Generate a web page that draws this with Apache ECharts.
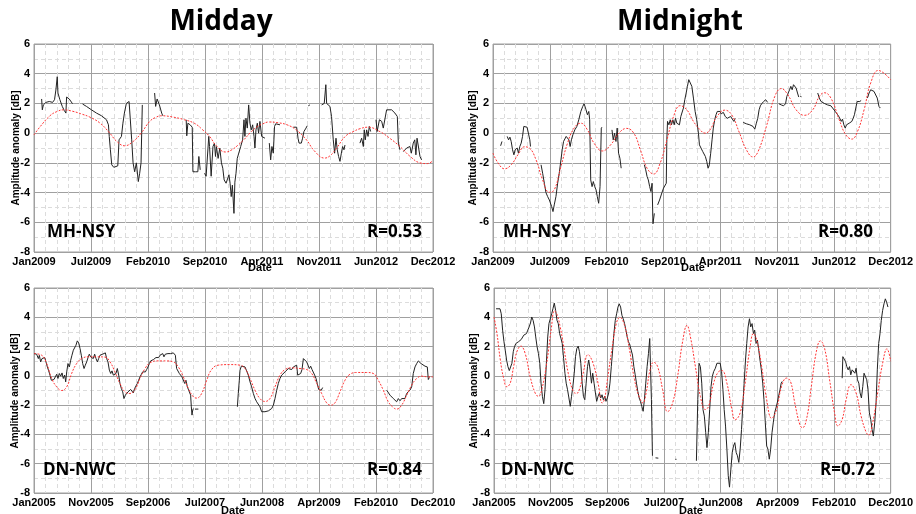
<!DOCTYPE html>
<html><head><meta charset="utf-8">
<script src="https://cdn.jsdelivr.net/npm/echarts@6/dist/echarts.min.js"></script>
<style>html,body{margin:0;padding:0;background:#fff}#c{width:916px;height:514px}</style>
</head><body><div id="c"></div>
<script>
// Tick labels (x values are positions in minor-grid units, 5 per labelled tick)
const ticksNsy = ['Jan2009','Jul2009','Feb2010','Sep2010','Apr2011','Nov2011','Jun2012','Dec2012'];
const ticksNwc = ['Jan2005','Nov2005','Sep2006','Jul2007','Jun2008','Apr2009','Feb2010','Dec2010'];
const yTicks = [-8,-6,-4,-2,0,2,4,6];

// Midday MH-NSY observed (null = data gap)
const middayNsyObs = [[0.67,2.3],[0.73,1.57],[0.82,1.9],[1.05,2.07],[1.34,2.13],[1.46,2.0],[1.63,2.07],[1.8,2.25],[1.92,2.9],[2.04,3.8],[2.1,2.7],[2.27,2.25],[2.48,1.8],[2.65,1.53],[2.8,1.35],[2.86,2.43],[3.09,2.3],[3.38,1.98],null,
[4.26,1.96],[4.6,1.8],[5.04,1.57],[5.48,1.35],[5.92,1.17],[6.36,0.9],[6.53,0.56],[6.6,-0.22],[6.7,-1.12],[6.82,-2.13],[7.0,-2.3],[7.17,-2.2],[7.35,-2.2],[7.46,-0.45],[7.67,-0.22],[7.8,0.67],[7.93,1.35],[8.1,2.0],[8.34,2.13],[8.5,2.07],[8.57,-0.45],[8.69,-2.0],[8.83,-2.6],[8.98,-2.0],[9.15,-3.26],[9.27,-2.7],[9.39,-2.0],[9.5,1.9],null,
[10.58,2.7],[10.67,1.8],[10.8,2.3],[11.0,1.9],[11.2,1.35],[11.3,1.17],null,
[13.35,0.9],[13.4,-0.18],[13.5,0.67],[13.7,0.56],[13.88,0.4],[13.94,-2.6],[14.17,-2.6],[14.37,-2.6],[14.46,-1.57],[14.58,-2.47],null,
[14.96,-2.7],[15.1,-2.9],[15.33,-0.22],[15.4,-0.9],[15.54,-2.9],[15.7,-0.9],[15.83,-0.67],[15.92,-1.57],[16.0,-0.9],[16.15,-1.7],[16.3,-1.0],[16.44,-2.0],[16.56,-2.36],[16.68,-3.15],[16.85,-3.37],[17.1,-2.8],[17.2,-3.37],[17.3,-4.27],[17.4,-3.5],[17.54,-5.4],[17.62,-3.3],[17.72,-2.7],[17.83,-1.7],[18.0,-1.57],[18.13,-0.9],[18.3,-0.45],[18.42,0.9],[18.5,-0.22],[18.59,1.0],[18.71,0.34],[18.83,1.9],[18.94,0.67],[19.06,0.22],[19.18,0.56],[19.3,-0.22],[19.38,-1.0],[19.47,0.22],[19.59,0.67],[19.7,0],[19.82,0.79],[19.97,-0.22],[20.1,-0.22],[20.26,-0.34],null,
[20.64,-0.67],[20.76,-1.8],[20.87,-0.9],[20.99,-1.35],[21.1,0.45],[21.2,0.63],[21.58,0.56],null,
[22.75,0.4],[23.04,0.4],[23.16,-0.34],[23.25,-0.67],[23.45,-0.67],[23.56,-0.34],[23.68,0.11],[23.86,0.34],[23.97,0.5],null,
[24.06,1.84],[24.2,1.9],null,
[25.23,1.9],[25.46,2.0],[25.6,3.26],[25.67,2.0],[25.84,2.13],[25.96,1.8],[26.1,1.12],[26.25,-0.45],[26.37,-1.35],[26.49,-0.34],[26.6,-1.12],[26.72,-1.57],[26.84,-1.9],[26.96,-1.35],[27.07,-0.9],[27.19,-1.12],[27.28,-0.8],null,
[28.59,-0.67],[28.74,-0.34],[28.89,-0.9],[28.97,0.22],[29.06,-0.45],[29.18,0.22],[29.3,-0.22],[29.41,0.45],[29.53,0.11],null,
[30.0,0.9],[30.1,0.11],[30.3,0.9],[30.5,0.79],[30.64,0.34],[30.8,0.4],[30.93,1.57],[31.1,1.69],[31.37,1.57],[31.66,1.35],[31.87,1.12],[31.96,-0.67],[32.1,-1.12],null,
[32.4,-1.24],[32.69,-1.0],[32.98,-0.9],[33.1,-1.35],[33.27,-0.67],[33.4,-0.45],[33.5,-1.46],[33.6,-0.34],[33.7,-0.22],[33.86,-1.57],[34.0,-1.8]];

// Midday MH-NSY model (red)
const middayNsyFit = [[0,-0.12],[0.5,0.4],[1.4,1.17],[2.0,1.45],[2.6,1.57],[3.4,1.47],[4.2,1.28],[4.9,1.08],[5.8,0.67],[6.65,0],[7.25,-0.55],[7.95,-0.85],[8.7,-0.56],[9.4,0],[10.15,0.79],[10.7,1.07],[11.2,1.17],[12.2,1.08],[13.2,0.9],[14.1,0.65],[14.8,0.22],[15.4,-0.22],[16.0,-0.85],[16.8,-1.27],[17.4,-1.1],[17.9,-0.8],[18.4,-0.45],[19.0,0.05],[19.6,0.45],[20.0,0.6],[20.6,0.75],[21.4,0.7],[22.2,0.56],[23.0,0.22],[23.9,-0.45],[24.6,-1.2],[25.5,-1.68],[26.0,-1.5],[26.55,-1.0],[27.3,-0.22],[28.0,0.1],[28.6,0.3],[29.3,0.4],[30.35,0.1],[31.2,-0.34],[32.1,-0.9],[33.0,-1.57],[33.86,-2.0],[34.5,-2.05],[35,-1.85]];

// Midnight MH-NSY observed
const midnightNsyObs = [[0.67,-0.85],[0.79,-0.56],null,
[1.25,-0.22],[1.37,-0.45],[1.49,-0.27],[1.6,-0.56],[1.72,-1.12],[1.84,-1.46],[1.95,-1.12],[2.13,-1.0],[2.24,-1.35],[2.36,-0.9],[2.48,-0.67],[2.6,-0.22],[2.71,0.45],[2.83,0.5],[3.0,0.4],[3.12,0.4],[3.24,-0.45],[3.3,-0.9],null,
[4.23,-2.13],[4.37,-2.7],[4.52,-3.37],[4.66,-4.0],[4.81,-4.27],[4.96,-4.5],[5.04,-4.4],[5.16,-4.94],[5.28,-5.28],[5.39,-4.83],[5.54,-4.27],[5.69,-3.37],[5.83,-2.7],[5.98,-1.8],[6.09,-1.12],[6.21,-0.56],[6.33,-0.45],[6.44,-0.22],[6.56,-0.11],[6.68,-0.45],[6.79,-0.9],[6.9,-0.45],[7.03,-0.11],[7.2,0.22],[7.38,0.45],[7.55,0.9],[7.73,1.46],[7.9,1.8],[8.02,1.98],[8.19,1.57],[8.31,1.24],[8.43,1.46],[8.51,0.9],[8.6,-3.15],[8.72,-3.6],[8.83,-3.26],[8.95,-3.6],[9.07,-3.82],[9.18,-4.27],[9.3,-4.72],[9.42,-3.6],[9.53,0.34],[9.59,0.4],null,
[10.47,0.22],[10.58,-0.45],[10.7,0.0],[10.82,-0.56],[10.93,0.34],[11.05,-1.35],[11.17,-1.69],[11.28,-2.36],null,
[13.32,-2.13],[13.44,-2.47],[13.56,-2.92],[13.67,-3.15],[13.79,-3.6],[13.9,-3.93],[14.0,-3.37],[14.08,-6.1],[14.2,-5.4],null,
[14.49,-4.83],[14.66,-4.5],[14.87,-4.0],[15.01,-3.7],[15.16,-3.6],[15.25,-3.37],[15.3,-0.45],[15.36,0.79],[15.48,0.56],[15.6,0.9],[15.71,0.56],[15.83,0.9],[15.95,0.56],[16.06,1.0],[16.18,0.67],[16.3,0.79],[16.41,0.56],[16.53,1.12],[16.65,1.0],[16.76,1.69],[16.88,2.25],[17.0,2.7],[17.11,3.15],[17.23,3.6],[17.35,3.7],[17.5,3.15],[17.64,2.36],[17.79,1.46],[17.93,0.9],[18.08,0],[18.17,-0.79],[18.28,-0.9],[18.46,-1.24],[18.58,-1.35],[18.69,-1.57],[18.81,-1.9],[18.93,-2.36],[19.04,-2.13],[19.16,-1.35],[19.28,-0.45],[19.39,0.34],[19.51,0.9],[19.63,1.24],[19.74,1.46],[19.86,1.35],[19.98,1.46],[20.09,1.3],[20.27,1.4],[20.44,1.12],[20.62,1.0],[20.79,0.9],[20.91,1.12],[21.08,1.17],[21.2,0.79],[21.32,1.0],null,
[22.02,0.72],[22.3,0.63],[22.6,0.56],[22.89,0.45],[23.04,0.27],[23.18,0.67],[23.3,1.0],[23.42,1.57],[23.53,1.84],[23.65,1.98],[23.82,2.13],[24.0,2.25],[24.17,2.07],null,
[25.16,1.98],[25.37,1.9],[25.57,1.84],[25.75,1.98],[25.86,2.47],[25.98,2.7],[26.1,2.92],[26.21,3.15],[26.33,2.92],[26.45,3.26],[26.56,3.37],[26.68,3.03],[26.8,2.7],[26.91,2.43],null,
[27.05,2.47],[27.15,2.45],null,
[28.58,2.7],[28.72,2.36],[28.87,2.13],[29.01,2.25],[29.16,2.0],[29.3,2.13],[29.45,1.9],[29.74,1.84],[29.89,1.69],[30.12,1.46],[30.33,1.24],[30.47,1.08],[30.65,0.79],[30.76,0.94],[30.88,0.56],[31.0,0.34],[31.11,0.56],[31.23,0.5],[31.35,0.67],[31.46,0.56],[31.58,0.79],[31.7,1.0],[31.81,1.24],[31.93,1.69],[32.05,2.13],[32.16,2.2],[32.28,2.13],[32.4,2.2],null,
[32.95,2.36],[33.1,2.7],[33.24,2.92],[33.39,3.03],[33.53,2.81],[33.68,2.7],[33.82,2.36],[33.97,1.8],[34.09,1.69]];

// Midnight MH-NSY model
const midnightNsyFit = [[0,-1.35],[0.44,-2.0],[1.02,-2.4],[1.6,-2.13],[2.19,-1.46],[2.77,-0.92],[3.2,-1.0],[3.79,-1.8],[4.37,-3.15],[4.96,-3.98],[5.39,-3.82],[5.98,-2.25],[6.56,-0.67],[7.14,0.34],[7.73,0.67],[8.31,0.22],[8.89,-0.67],[9.62,-1.2],[10.35,-0.79],[11.08,0],[11.75,0.32],[12.39,0],[12.97,-1.12],[13.56,-2.36],[14.14,-2.75],[14.72,-2.0],[15.31,-0.45],[15.89,1.12],[16.47,1.85],[17.06,1.57],[17.64,0.79],[18.23,0.22],[18.66,0.0],[19.1,0.22],[19.68,1.08],[20.41,1.55],[21.0,1.24],[21.7,0],[22.3,-1.12],[22.89,-1.6],[23.33,-1.24],[24.06,0.45],[24.8,2.47],[25.37,3.0],[25.95,2.58],[26.68,1.57],[27.41,1.2],[28.14,1.57],[28.72,2.47],[29.16,2.72],[29.74,2.36],[30.47,0.9],[31.05,-0.11],[31.58,-0.4],[32.08,0.11],[32.66,1.57],[33.24,3.37],[33.91,4.22],[34.4,4.04],[35,3.6]];

// Midday DN-NWC observed
const middayNwcObs = [[0,1.52],[0.23,1.48],[0.38,1.18],[0.47,1.4],[0.58,0.95],[0.7,1.18],[0.82,1.07],[0.94,1.25],[1.05,0.95],[1.17,0.61],[1.29,0.34],[1.4,0.05],[1.52,-0.3],[1.64,-0.18],[1.75,-0.25],[1.87,-0.07],[1.99,0.11],[2.1,-0.18],[2.22,0.16],[2.34,-0.02],[2.46,0.2],[2.57,-0.18],[2.69,0.05],[2.78,-0.41],[2.87,0.27],[2.98,0.84],[3.1,0.61],[3.22,1.07],[3.33,1.41],[3.45,1.75],[3.57,1.64],[3.68,2.09],[3.8,2.39],[3.92,2.25],[4.04,1.86],[4.15,1.41],[4.27,0.84],[4.39,0.5],[4.5,0.73],[4.62,0.95],[4.74,1.25],[4.85,1.48],[4.97,1.3],[5.09,1.41],[5.2,1.18],[5.32,1.48],[5.44,1.18],[5.56,0.95],[5.67,1.18],[5.79,1.41],[5.91,1.52],[6.02,1.48],[6.14,1.52],[6.26,1.57],[6.37,1.18],[6.49,0.95],[6.61,0.39],[6.73,0.16],[6.84,0.34],[6.96,0.05],[7.08,-0.07],[7.19,0.16],[7.31,0.5],[7.43,0.05],[7.54,-0.52],[7.66,-0.86],[7.78,-1.09],[7.89,-1.55],[8.01,-1.32],[8.13,-1.2],[8.25,-1.09],[8.36,-1.2],[8.48,-0.93],[8.6,-1.02],[8.71,-1.16],[8.83,-0.86],[8.95,-0.75],[9.06,-0.52],[9.18,-0.3],[9.3,-0.07],[9.42,0.11],[9.53,0.27],[9.65,0.2],[9.77,0.27],[9.88,0.43],[10.0,0.61],[10.12,0.84],[10.23,1.02],[10.35,1.07],[10.47,1.11],[10.58,1.18],[10.7,1.25],[10.82,1.34],[10.94,1.25],[11.05,1.41],[11.17,1.34],[11.29,1.52],[11.4,1.3],[11.52,1.48],[11.64,1.41],[11.75,1.52],[11.87,1.64],[11.99,1.52],[12.11,1.64],[12.22,1.57],[12.4,1.41],[12.51,0.5],[12.63,0.39],[12.75,0.16],[12.87,0.05],[12.98,-0.07],[13.1,-0.18],[13.22,-0.52],[13.33,-0.3],[13.45,-0.75],[13.57,-0.98],[13.68,-1.09],[13.74,-1.32],[13.8,-2.11],[13.86,-2.68],[13.92,-2.34],[13.98,-2.23],null,
[14.12,-2.27],[14.42,-2.27],null,
[17.84,-2.11],[17.92,-1.2],[18.01,-0.3],[18.07,0.39],[18.19,0.66],[18.36,0.73],[18.51,0.61],[18.65,0.34],[18.8,0.05],[18.95,-0.41],[19.09,-0.75],[19.24,-1.2],[19.39,-1.55],[19.53,-1.77],[19.68,-1.89],[19.82,-2.11],[19.97,-2.45],[20.12,-2.52],[20.26,-2.45],[20.41,-2.52],[20.56,-2.39],[20.7,-2.34],[20.85,-2.23],[21.0,-2.0],[21.14,-1.55],[21.29,-0.98],[21.43,-0.52],[21.58,-0.18],[21.73,0.05],[21.87,0.16],[22.02,0.27],[22.16,0.39],[22.31,0.5],[22.46,0.61],[22.6,0.43],[22.75,0.61],[22.9,0.73],[23.04,0.73],[23.13,0.05],[23.27,-0.02],[23.39,0.16],[23.51,0.43],[23.63,1.18],[23.8,1.11],[23.92,0.95],[24.04,0.73],[24.15,0.5],[24.27,0.66],[24.39,0.43],[24.5,0.5],[24.62,0.05],[24.74,-0.18],[24.85,-0.52],[24.97,-0.93],[25.09,-0.8],[25.2,-0.98],[25.32,-0.8],null,
[30.94,-0.98],[31.08,-1.09],[31.23,-1.32],[31.37,-1.2],[31.52,-1.55],[31.67,-1.43],[31.81,-1.77],[31.96,-1.55],[32.11,-1.7],[32.25,-1.55],[32.4,-1.43],[32.54,-1.55],[32.69,-1.2],[32.84,-1.09],[32.98,-0.98],[33.13,-0.75],[33.27,0.16],[33.42,0.61],[33.57,0.84],[33.71,1.02],[33.86,1.11],[33.95,0.84],[34.09,0.73],[34.3,0.66],[34.5,0.61],[34.59,-0.25],[34.68,-0.11]];

// Midday DN-NWC model
const middayNwcFit = [[0,1.52],[0.67,1.41],[1.11,0.84],[1.55,-0.18],[1.99,-0.75],[2.43,-1.0],[2.87,-0.75],[3.3,0.16],[3.74,0.84],[4.18,1.18],[4.77,1.3],[5.5,1.3],[6.23,1.28],[6.67,0.95],[7.1,0.27],[7.54,-0.52],[7.98,-1.09],[8.42,-1.2],[8.86,-0.93],[9.3,-0.18],[9.74,0.5],[10.18,0.89],[10.76,1.02],[11.64,1.02],[12.22,0.95],[12.66,0.61],[13.1,-0.07],[13.54,-0.86],[13.98,-1.43],[14.27,-1.52],[14.71,-1.2],[15.15,-0.3],[15.58,0.43],[16.17,0.73],[17.19,0.77],[18.07,0.73],[18.51,0.5],[18.95,-0.18],[19.39,-0.98],[19.82,-1.55],[20.26,-1.75],[20.7,-1.55],[21.14,-0.75],[21.58,0.05],[22.02,0.43],[22.6,0.55],[23.33,0.5],[23.92,0.43],[24.36,0.16],[24.8,-0.52],[25.23,-1.2],[25.67,-1.84],[26.02,-2.0],[26.4,-1.84],[26.84,-1.09],[27.28,-0.3],[27.72,0.11],[28.3,0.23],[29.18,0.23],[29.77,0.16],[30.2,-0.3],[30.64,-0.98],[31.08,-1.77],[31.52,-2.16],[31.81,-2.27],[32.25,-2.0],[32.69,-1.32],[33.13,-0.64],[33.57,-0.18],[34.0,-0.02],[34.59,-0.07],[35,-0.07]];

// Midnight DN-NWC observed
const midnightNwcObs = [[0.18,4.58],[0.35,4.7],[0.53,4.58],[0.64,4.24],[0.76,3.12],[0.88,2.33],[0.99,1.76],[1.11,1.08],[1.23,0.63],[1.35,0.36],[1.46,0.23],[1.58,0.86],[1.7,1.65],[1.81,1.99],[1.93,2.21],[2.05,2.1],[2.16,2.33],[2.28,2.21],[2.4,2.48],[2.51,2.55],[2.63,2.78],[2.75,2.66],[2.87,2.89],[2.98,3.12],[3.1,3.34],[3.22,3.61],[3.33,4.02],[3.45,3.79],[3.57,3.34],[3.68,2.66],[3.8,1.99],[3.92,1.53],[4.04,0.86],[4.15,-0.5],[4.27,-1.4],[4.39,-1.9],[4.5,-0.95],[4.62,0.86],[4.74,2.66],[4.85,3.57],[4.97,3.57],[5.09,4.24],[5.2,4.58],[5.32,4.97],[5.44,4.47],[5.56,3.79],[5.67,3.57],[5.79,2.89],[5.91,2.55],[6.02,2.21],[6.14,1.2],[6.26,0.18],[6.37,-0.5],[6.49,-0.95],[6.61,-1.51],[6.73,-2.08],[6.84,-1.4],[6.96,-0.72],[7.08,0.18],[7.19,1.31],[7.31,1.87],[7.43,2.03],[7.54,1.65],[7.66,0.86],[7.78,-0.5],[7.89,-1.4],[8.01,-1.63],[8.13,-0.5],[8.25,0.63],[8.36,1.08],[8.48,0.41],[8.6,-0.5],[8.71,0.18],[8.83,-0.5],[8.95,-1.17],[9.06,-1.74],[9.18,-1.4],[9.3,-1.17],[9.42,-1.51],[9.53,-1.29],[9.65,-1.63],[9.77,-1.4],[9.88,-1.74],[10.0,-1.51],[10.12,-1.17],[10.23,-0.5],[10.35,0.63],[10.47,1.76],[10.58,2.89],[10.7,3.79],[10.82,4.24],[10.94,4.7],[11.05,4.92],[11.17,4.7],[11.29,4.13],[11.4,3.9],[11.52,3.57],[11.64,3.12],[11.75,2.66],[11.87,2.33],[11.99,2.1],[12.11,1.99],[12.22,1.42],[12.34,0.63],[12.46,0.07],[12.57,-0.5],[12.69,-1.06],[12.81,-1.51],[12.92,-1.74],[13.04,-2.08],[13.16,-2.42],[13.27,-1.63],[13.39,-0.5],[13.51,0.63],[13.63,1.53],[13.74,2.55],[13.8,2.66],[13.89,-1.63],[13.98,-5.46],null,
[14.25,-5.6],[14.5,-5.62],null,[16.0,-5.7],[16.1,-5.7],null,
[17.86,-5.8],[17.98,-1.63],[18.09,0.86],[18.21,0.63],[18.33,-0.5],[18.44,-2.3],[18.56,-2.75],[18.68,-3.88],[18.79,-4.9],[18.91,-3.88],[19.03,-2.3],[19.15,-0.72],[19.26,-0.05],[19.38,0.29],[19.53,0.52],[19.67,0.86],[19.82,0.97],[19.96,0.86],[20.08,0.29],[20.2,-0.95],[20.31,-2.3],[20.43,-3.43],[20.55,-5.01],[20.67,-6.82],[20.78,-7.6],[20.9,-6.37],[21.02,-5.24],[21.13,-4.79],[21.25,-4.56],[21.37,-5.24],[21.48,-5.46],[21.6,-5.91],[21.72,-5.01],[21.84,-3.66],[21.95,-2.08],[22.07,-0.5],[22.19,1.08],[22.3,2.21],[22.42,3.34],[22.54,3.9],[22.65,3.34],[22.77,3.57],[22.89,2.89],[23.0,3.12],[23.12,2.21],[23.24,2.44],[23.36,1.76],[23.47,1.08],[23.59,0.41],[23.71,-0.5],[23.82,-1.63],[23.94,-3.21],[24.06,-4.79],[24.17,-5.01],[24.29,-5.69],[24.41,-5.01],[24.53,-3.88],[24.64,-3.21],[24.76,-2.53],[24.88,-2.19],[24.99,-1.85],[25.11,-1.74],[25.23,-0.95],[25.34,-0.5],[25.43,-0.38],null,
[30.72,-0.16],[30.78,1.31],[30.9,1.2],[31.02,0.97],[31.13,0.63],[31.25,0.41],[31.37,0.63],[31.48,0.07],[31.6,0.41],[31.72,0.52],[31.84,0.18],[31.95,0.52],[32.07,-0.27],[32.19,-0.5],[32.3,-1.17],[32.42,-1.51],[32.54,-0.72],[32.65,0.18],[32.77,0.07],[32.89,-0.27],[33.0,-0.95],[33.12,-2.53],[33.24,-2.98],[33.36,-3.66],[33.47,-4.11],[33.59,-3.21],[33.71,-1.85],[33.82,0.41],[33.94,2.21],[34.06,2.89],[34.17,3.79],[34.29,4.47],[34.41,4.92],[34.53,5.26],[34.64,5.03],[34.76,4.7]];

// Midnight DN-NWC model
const midnightNwcFit = [[0,4.02],[0.26,2.89],[0.56,1.08],[0.85,-0.16],[1.14,-0.75],[1.43,-0.5],[1.73,0.63],[2.02,1.65],[2.37,2.03],[2.75,1.53],[3.19,-0.05],[3.63,-1.17],[3.92,-1.4],[4.21,-0.95],[4.65,0.86],[5.05,3.2],[5.35,4.45],[5.6,4.1],[5.85,3.3],[6.11,2.2],[6.55,0.18],[6.99,-1.06],[7.28,-1.2],[7.57,-0.84],[7.87,0.18],[8.3,1.45],[8.74,0.86],[9.18,-0.5],[9.55,-1.85],[9.75,-1.6],[10.0,-0.3],[10.4,1.8],[10.8,3.6],[11.1,4.0],[11.5,3.5],[11.96,1.76],[12.4,-0.27],[12.84,-1.51],[13.13,-1.85],[13.42,-1.17],[13.77,0.41],[14.09,0.93],[14.44,0.63],[14.88,-0.95],[15.32,-2.45],[15.76,-1.85],[16.2,-0.05],[16.64,2.33],[17.03,3.45],[17.33,2.66],[17.77,0.63],[18.21,-1.4],[18.65,-2.3],[18.94,-2.08],[19.38,-0.5],[19.82,0.29],[20.11,0.36],[20.55,-0.5],[20.99,-2.3],[21.28,-3.0],[21.72,-2.53],[22.16,-0.5],[22.6,1.99],[22.89,2.89],[23.18,2.44],[23.62,0.63],[24.06,-1.63],[24.5,-2.9],[24.93,-2.3],[25.37,-0.72],[25.81,-0.15],[26.16,-0.38],[26.54,-1.85],[26.98,-3.32],[27.21,-3.55],[27.57,-2.98],[28.0,-0.72],[28.44,1.65],[28.8,2.39],[29.17,1.87],[29.61,-0.27],[30.05,-2.53],[30.34,-3.42],[30.72,-2.98],[31.07,-1.63],[31.5,-0.6],[31.95,-1.17],[32.39,-2.75],[32.83,-3.84],[33.06,-4.05],[33.41,-3.21],[33.85,-1.17],[34.29,0.86],[34.67,1.85],[35,1.0]];

const panels = [
  {obs: middayNsyObs,   fit: middayNsyFit,   ticks: ticksNsy},
  {obs: midnightNsyObs, fit: midnightNsyFit, ticks: ticksNsy},
  {obs: middayNwcObs,   fit: middayNwcFit,   ticks: ticksNwc},
  {obs: midnightNwcObs, fit: midnightNwcFit, ticks: ticksNwc}
];
const grids = [
  {left: 34, top: 44, width: 399, height: 208},
  {left: 493, top: 44, width: 400, height: 208},
  {left: 34, top: 288, width: 399, height: 205},
  {left: 494, top: 288, width: 399, height: 205}
];

function segments(arr) {
  const out = []; let cur = [];
  arr.forEach(p => { if (p === null) { if (cur.length) out.push(cur); cur = []; } else cur.push(p); });
  if (cur.length) out.push(cur);
  return out;
}

const labelFont = 'Liberation Sans, Arial, sans-serif';
const xAxes = [], yAxes = [], series = [];
panels.forEach((p, i) => {
  xAxes.push({
    gridIndex: i, type: 'value', min: 0, max: 35, interval: 5,
    axisLine: {show: false}, axisTick: {show: false},
    axisLabel: {formatter: v => p.ticks[Math.round(v / 5)], fontWeight: 'bold', fontSize: 11,
      color: '#000', margin: 4, fontFamily: labelFont, showMinLabel: true, showMaxLabel: true},
    splitLine: {show: true, lineStyle: {color: '#a0a0a0', width: 1}},
    minorTick: {show: false, splitNumber: 5},
    minorSplitLine: {show: true, lineStyle: {color: '#dcdcdc', width: 1, type: [4, 3]}}
  });
  yAxes.push({
    gridIndex: i, type: 'value', min: yTicks[0], max: yTicks[yTicks.length - 1], interval: 2,
    axisLine: {show: false}, axisTick: {show: false},
    axisLabel: {fontWeight: 'bold', fontSize: 11, color: '#000', margin: 4, fontFamily: labelFont},
    splitLine: {show: true, lineStyle: {color: '#a0a0a0', width: 1}},
    minorTick: {show: false, splitNumber: 2},
    minorSplitLine: {show: true, lineStyle: {color: '#dcdcdc', width: 1, type: [4, 3]}}
  });
  segments(p.obs).forEach(seg => series.push({
    type: 'line', xAxisIndex: i, yAxisIndex: i, data: seg, showSymbol: false, symbol: 'none',
    lineStyle: {color: '#222', width: 1}, z: 3, silent: true
  }));
  series.push({
    type: 'line', xAxisIndex: i, yAxisIndex: i, data: p.fit, showSymbol: false, symbol: 'none',
    smooth: 0.45, lineStyle: {color: '#ff3434', width: 1, type: [2, 1.5]}, z: 4, silent: true
  });
});

function txt(x, y, s, font, align, rot) {
  return {type: 'text', x: x, y: y, rotation: rot || 0, silent: true, z: 10,
    style: {text: s, font: font, fill: '#000', align: align || 'center', verticalAlign: 'middle',
            textAlign: align || 'center', textVerticalAlign: 'middle'}};
}
const titleFont = 'bold 28px "Open Sans", "Noto Sans", sans-serif';
const tagFont = 'bold 17px "Open Sans", "Noto Sans", sans-serif';
const nameFont = 'bold 10px "Liberation Sans", Arial, sans-serif';
const dateFont = 'bold 11px "Liberation Sans", Arial, sans-serif';
const graphic = [
  txt(221, 22, 'Midday', titleFont),
  txt(680, 22, 'Midnight', titleFont),
  txt(16, 148, 'Amplitude anomaly [dB]', nameFont, 'center', Math.PI / 2),
  txt(473, 148, 'Amplitude anomaly [dB]', nameFont, 'center', Math.PI / 2),
  txt(15, 391, 'Amplitude anomaly [dB]', nameFont, 'center', Math.PI / 2),
  txt(474, 391, 'Amplitude anomaly [dB]', nameFont, 'center', Math.PI / 2),
  txt(260, 268, 'Date', dateFont),
  txt(693, 268, 'Date', dateFont),
  txt(233, 511, 'Date', dateFont),
  txt(691, 511, 'Date', dateFont),
  txt(47, 232, 'MH-NSY', tagFont, 'left'),
  txt(422, 232, 'R=0.53', tagFont, 'right'),
  txt(503, 232, 'MH-NSY', tagFont, 'left'),
  txt(873, 232, 'R=0.80', tagFont, 'right'),
  txt(43, 470, 'DN-NWC', tagFont, 'left'),
  txt(422, 470, 'R=0.84', tagFont, 'right'),
  txt(501, 470, 'DN-NWC', tagFont, 'left'),
  txt(875, 470, 'R=0.72', tagFont, 'right')
];

const chart = echarts.init(document.getElementById('c'), null, {renderer: 'canvas'});
chart.setOption({
  animation: false,
  backgroundColor: '#fff',
  grid: grids.map(g => Object.assign({show: true, borderColor: '#a0a0a0', borderWidth: 1, backgroundColor: '#fff', containLabel: false}, g)),
  xAxis: xAxes, yAxis: yAxes, series: series, graphic: graphic
});
</script></body></html>
